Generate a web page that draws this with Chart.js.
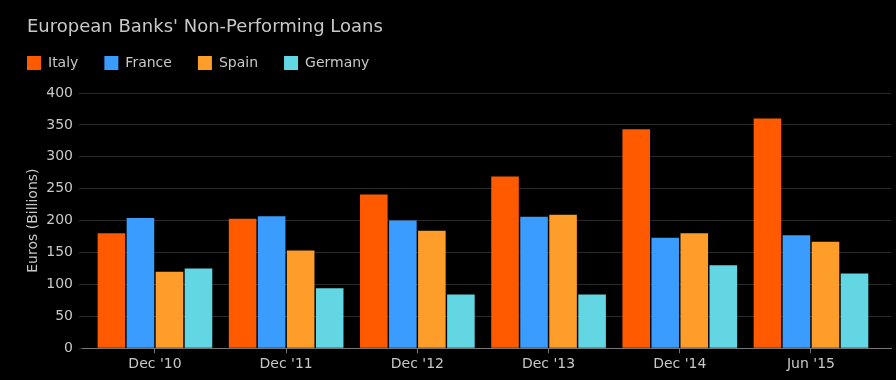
<!DOCTYPE html>
<html>
<head>
<meta charset="utf-8">
<script src="https://cdn.jsdelivr.net/npm/chart.js@4"></script>
<style>
  html, body { margin: 0; padding: 0; background: #000; }
  #wrap { width: 896px; height: 380px; position: relative; }
</style>
</head>
<body>
<div id="wrap"><canvas id="npl"></canvas></div>
<script>
// === Data ===
const periods = ["Dec '10", "Dec '11", "Dec '12", "Dec '13", "Dec '14", "Jun '15"];
const italy   = [180, 203, 241, 269, 343, 360];
const france  = [204, 207, 200, 206, 173, 177];
const spain   = [120, 153, 184, 209, 180, 167];
const germany = [125, 94, 84, 84, 130, 117];

const txt = '#c8c8c8';
const font = 'DejaVu Sans';
const titleText = "European Banks' Non-Performing Loans";

// x is numeric (period index) so the axis can run a little past the bar groups
function ds(label, data, color){
  return {
    label,
    data: data.map((v, i) => ({ x: i, y: v })),
    backgroundColor: color,
    borderWidth: 0,
    categoryPercentage: 0.885,
    barPercentage: 0.95
  };
}

// title drawn at a fixed spot, above the legend row
const headline = {
  id: 'headline',
  afterInit(chart){
    // leave a gap between legend and plot
    const lg = chart.legend;
    if (lg && !lg._padded){
      const fit = lg.fit;
      lg.fit = function(){ fit.call(this); this.height += 13; };
      lg._padded = true;
    }
  },
  afterDraw(chart){
    const c = chart.ctx;
    c.save();
    c.fillStyle = txt;
    c.font = '18px "' + font + '"';
    c.textBaseline = 'middle';
    c.textAlign = 'left';
    c.fillText(titleText, 27, 27);
    c.restore();
  }
};

new Chart(document.getElementById('npl'), {
  type: 'bar',
  data: {
    datasets: [
      ds('Italy',   italy,   '#ff5a00'),
      ds('France',  france,  '#3a9cff'),
      ds('Spain',   spain,   '#ff9d2a'),
      ds('Germany', germany, '#62d6e2')
    ]
  },
  plugins: [headline],
  options: {
    responsive: true, maintainAspectRatio: false,
    animation: false,
    layout: { padding: { left: 1, right: 5, top: 30, bottom: 4 } },
    plugins: {
      legend: {
        align: 'start',
        labels: {
          color: txt,
          font: { family: font, size: 14 },
          boxWidth: 14, boxHeight: 14,
          padding: 26
        }
      },
      tooltip: { enabled: false }
    },
    scales: {
      x: {
        type: 'linear',
        min: -0.556, max: 5.61,
        offset: false,
        afterBuildTicks(scale){ scale.ticks = periods.map((_, i) => ({ value: i })); },
        grid: {
          offset: false,
          drawOnChartArea: false,
          drawTicks: true,
          tickLength: 5,
          color: '#777'
        },
        border: { color: '#777' },
        ticks: {
          color: txt, font: { family: font, size: 14 }, padding: 3,
          callback: (v) => periods[v]
        }
      },
      y: {
        min: 0, max: 400,
        afterFit(scale){ scale.width = 81; },
        ticks: { stepSize: 50, color: txt, font: { family: font, size: 14 }, padding: 6 },
        grid: { color: '#2a2a2a', tickLength: 3 },
        border: { display: false },
        title: {
          display: true,
          text: 'Euros (Billions)',
          color: txt,
          font: { family: font, size: 14 },
          padding: { top: 24, bottom: 0 }
        }
      }
    }
  }
});
</script>
</body>
</html>
